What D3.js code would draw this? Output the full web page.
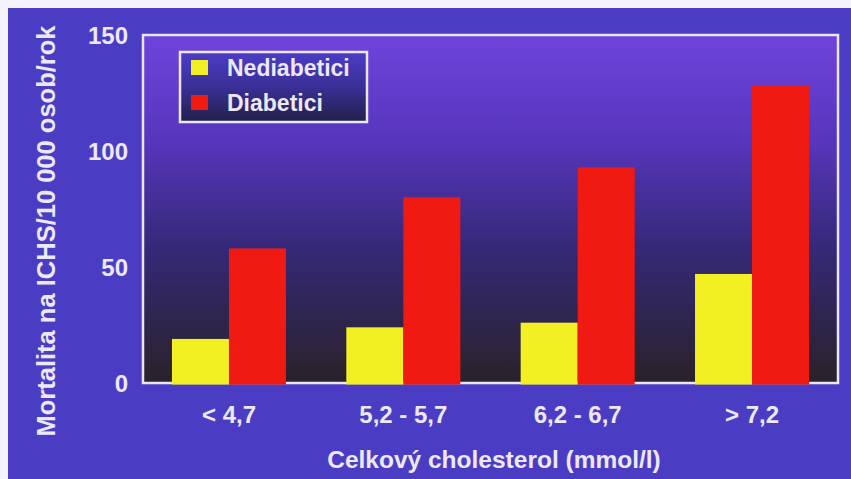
<!DOCTYPE html>
<html>
<head>
<meta charset="utf-8">
<script src="https://cdn.jsdelivr.net/npm/d3@7"></script>
<style>
  html, body { margin: 0; padding: 0; background: #f4f2fa; }
  svg { display: block; }
  text { font-family: "Liberation Sans", Arial, Helvetica, sans-serif; font-weight: bold; fill: #ece8f6; }
</style>
</head>
<body>
<svg id="chart" width="851" height="479"></svg>
<script>
// Cholesterol bands
const categories = ["< 4,7", "5,2 - 5,7", "6,2 - 6,7", "> 7,2"];
// Series names
const seriesNames = ["Nediabetici", "Diabetici"];
// CHD mortality per 10 000 person-years
const nondiabetic = [19, 24, 26, 47];
const diabetic = [58, 80, 93, 128];
const yTicks = [0, 50, 100, 150];
const yTitle = "Mortalita na ICHS/10 000 osob/rok";
const xTitle = "Celkový cholesterol (mmol/l)";

const seriesColors = ["#f2f022", "#f01a12"];

const svg = d3.select("#chart");
const W = 851, H = 479;
const plot = { left: 143, right: 838, top: 35, bottom: 383 };

const defs = svg.append("defs");
const plotGrad = defs.append("linearGradient")
  .attr("id", "plotGrad").attr("x1", 0).attr("y1", 0).attr("x2", 0).attr("y2", 1);
[[0, "#6f43dc"], [0.3, "#5736bd"], [0.62, "#352876"], [1, "#2a2228"]]
  .forEach(([o, c]) => plotGrad.append("stop").attr("offset", o).attr("stop-color", c));
const legGrad = defs.append("linearGradient")
  .attr("id", "legGrad").attr("x1", 0).attr("y1", 0).attr("x2", 0).attr("y2", 1);
[[0, "#4c3cc6"], [0.5, "#3a2f96"], [1, "#22204a"]]
  .forEach(([o, c]) => legGrad.append("stop").attr("offset", o).attr("stop-color", c));

// Slide background
svg.append("rect").attr("x", 8).attr("y", 8).attr("width", W - 8).attr("height", H - 8)
  .attr("fill", "#4b3dc3");

// Plot area
svg.append("rect")
  .attr("x", plot.left).attr("y", plot.top)
  .attr("width", plot.right - plot.left).attr("height", plot.bottom - plot.top)
  .attr("fill", "url(#plotGrad)")
  .attr("stroke", "#ebe6f6").attr("stroke-width", 2.5);

const x = d3.scaleBand().domain(categories)
  .range([plot.left, plot.right])
  .paddingInner(0.346).paddingOuter(0.166);
const xSub = d3.scaleBand().domain(seriesNames).range([0, x.bandwidth()]);
const y = d3.scaleLinear().domain([0, 150]).range([plot.bottom, plot.top]);

const rows = categories.map((c, i) => ({ cat: c, values: [nondiabetic[i], diabetic[i]] }));

// Bars
const groups = svg.append("g").selectAll("g").data(rows).join("g")
  .attr("transform", d => `translate(${x(d.cat)},0)`);
groups.selectAll("rect")
  .data(d => d.values.map((v, k) => ({ name: seriesNames[k], value: v, k })))
  .join("rect")
  .attr("x", d => xSub(d.name))
  .attr("y", d => y(d.value))
  .attr("width", xSub.bandwidth())
  .attr("height", d => y(0) - y(d.value) + 1.5)
  .attr("fill", d => seriesColors[d.k]);

// Y axis labels
const yAxis = d3.axisLeft(y).tickValues(yTicks).tickSize(0).tickPadding(0);
const yg = svg.append("g").attr("transform", `translate(128,0)`).call(yAxis);
yg.select(".domain").remove();
yg.selectAll("text").attr("font-size", 24).attr("dy", "0.36em")
  .style("font-family", "'Liberation Sans', Arial, sans-serif").style("font-weight", "bold").attr("fill", "#ece8f6");

// X axis labels
const xAxis = d3.axisBottom(x).tickSize(0).tickPadding(0);
const xg = svg.append("g").attr("transform", `translate(0,405)`).call(xAxis);
xg.select(".domain").remove();
xg.selectAll("text").attr("font-size", 24).attr("dy", "0.75em")
  .style("font-family", "'Liberation Sans', Arial, sans-serif").style("font-weight", "bold").attr("fill", "#ece8f6");

// Axis titles
svg.append("text")
  .attr("transform", "translate(55,231) rotate(-90)")
  .attr("text-anchor", "middle").attr("font-size", 25.5)
  .text(yTitle);
svg.append("text")
  .attr("x", 494).attr("y", 468)
  .attr("text-anchor", "middle").attr("font-size", 24.5)
  .text(xTitle);

// Legend
const leg = svg.append("g");
leg.append("rect").attr("x", 180).attr("y", 52).attr("width", 187).attr("height", 70)
  .attr("fill", "url(#legGrad)").attr("stroke", "#ebe6f6").attr("stroke-width", 2.5);
seriesNames.forEach((name, i) => {
  leg.append("rect").attr("x", 191).attr("y", 60 + i * 35).attr("width", 17).attr("height", 15)
    .attr("fill", seriesColors[i]);
  leg.append("text").attr("x", 227).attr("y", 76 + i * 35).attr("font-size", 23).text(name);
});
</script>
</body>
</html>
